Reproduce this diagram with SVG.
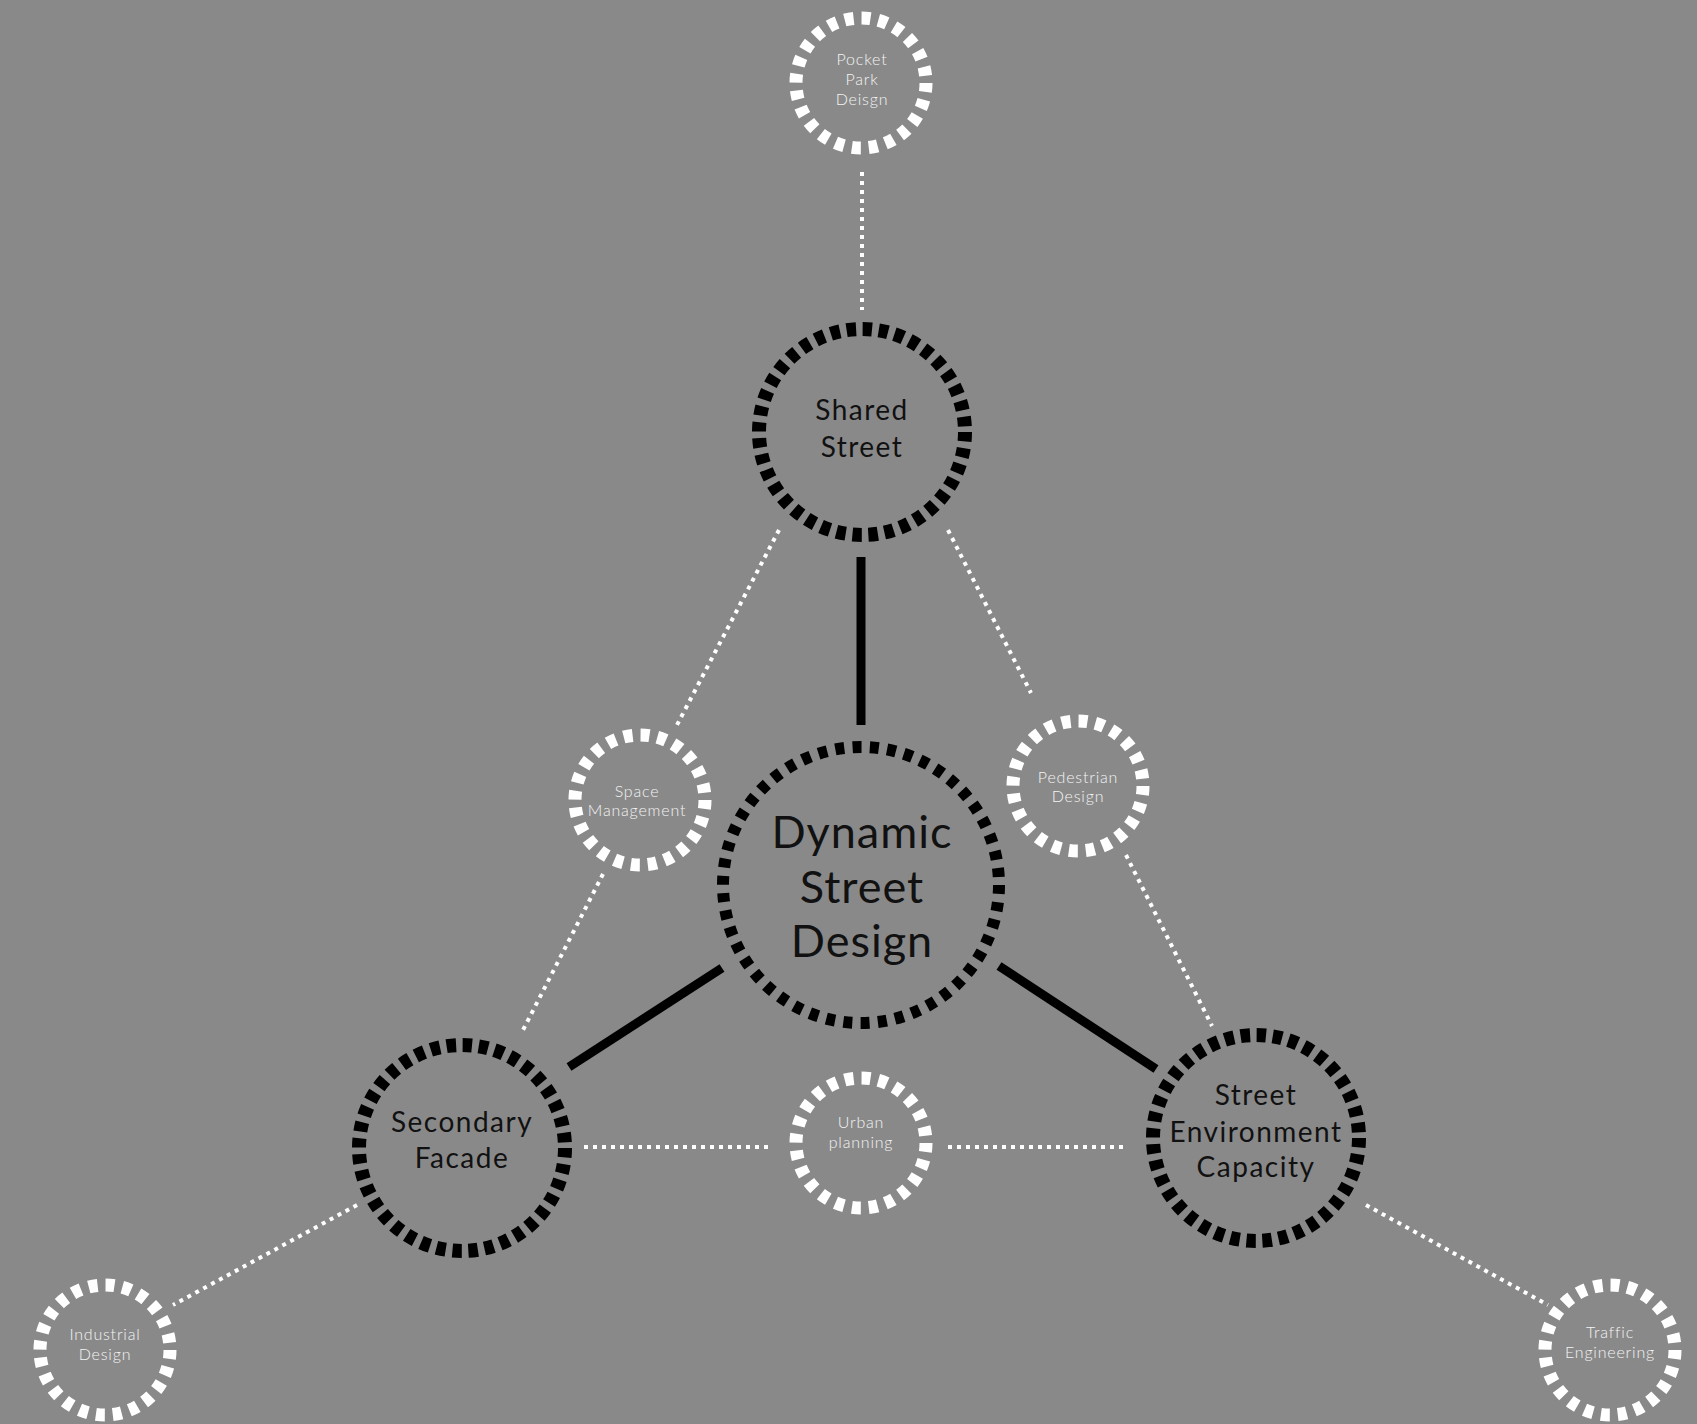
<svg xmlns="http://www.w3.org/2000/svg" width="1697" height="1424" viewBox="0 0 1697 1424">
<defs>
<style>
.bg{fill:#898989}
.wring{fill:none;stroke:#ffffff;stroke-width:13;stroke-dasharray:9 8.02}
.bring{fill:none;stroke:#000000;stroke-width:14;stroke-dasharray:9.5 6.68}
.cring{fill:none;stroke:#000000;stroke-width:12;stroke-dasharray:9 8.34}
.solid{stroke:#000000;stroke-width:9;stroke-linecap:butt;fill:none}
.dot{stroke:#ffffff;stroke-width:4;stroke-dasharray:4 5;fill:none}
.st{font-family:Lato,"Open Sans","Liberation Sans",sans-serif;font-weight:300;fill:#f4f4f4;font-size:16px;text-anchor:middle;letter-spacing:0.8px}
.mt{font-family:Lato,"Open Sans","Liberation Sans",sans-serif;font-weight:400;fill:#111111;font-size:28px;text-anchor:middle;letter-spacing:1.5px}
.lt{font-family:Lato,"Open Sans","Liberation Sans",sans-serif;font-weight:400;fill:#111111;font-size:45px;text-anchor:middle;letter-spacing:1px}
</style>
</defs>
<rect class="bg" x="0" y="0" width="1697" height="1424"/>
<g id="connectors">
<line class="dot" x1="862" y1="172" x2="862" y2="310"/>
<line class="solid" x1="861" y1="557" x2="861" y2="725"/>
<line class="solid" x1="722" y1="968" x2="569" y2="1067"/>
<line class="solid" x1="999" y1="966" x2="1156" y2="1069"/>
<line class="dot" x1="779" y1="530" x2="677" y2="725"/>
<line class="dot" x1="603" y1="874" x2="521" y2="1034"/>
<line class="dot" x1="948" y1="530" x2="1031" y2="693"/>
<line class="dot" x1="1126" y1="855" x2="1212" y2="1026"/>
<line class="dot" x1="584" y1="1147" x2="771" y2="1147"/>
<line class="dot" x1="948" y1="1147" x2="1126" y2="1147"/>
<line class="dot" x1="357" y1="1205" x2="173" y2="1305"/>
<line class="dot" x1="1366" y1="1205" x2="1548" y2="1305"/>
</g>
<g id="pocket-park">
<circle class="wring" cx="861" cy="83" r="65"/>
<text class="st" x="862" y="65">Pocket</text>
<text class="st" x="862" y="85">Park</text>
<text class="st" x="862" y="105">Deisgn</text>
</g>
<g id="shared-street">
<circle class="bring" cx="862" cy="432" r="103"/>
<text class="mt" x="862" y="420">Shared</text>
<text class="mt" x="862" y="457">Street</text>
</g>
<g id="dynamic-street-design">
<circle class="cring" cx="861" cy="885" r="138"/>
<text class="lt" x="862" y="848">Dynamic</text>
<text class="lt" x="862" y="903">Street</text>
<text class="lt" x="862" y="957">Design</text>
</g>
<g id="space-management">
<circle class="wring" cx="640" cy="800" r="65"/>
<text class="st" x="637" y="797">Space</text>
<text class="st" x="637" y="816">Management</text>
</g>
<g id="pedestrian-design">
<circle class="wring" cx="1078" cy="786" r="65"/>
<text class="st" x="1078" y="783">Pedestrian</text>
<text class="st" x="1078" y="802">Design</text>
</g>
<g id="secondary-facade">
<circle class="bring" cx="462" cy="1148" r="103"/>
<text class="mt" x="462" y="1132">Secondary</text>
<text class="mt" x="462" y="1168">Facade</text>
</g>
<g id="street-environment-capacity">
<circle class="bring" cx="1256" cy="1138" r="103"/>
<text class="mt" x="1256" y="1105">Street</text>
<text class="mt" x="1256" y="1142">Environment</text>
<text class="mt" x="1256" y="1177">Capacity</text>
</g>
<g id="urban-planning">
<circle class="wring" cx="861" cy="1143" r="65"/>
<text class="st" x="861" y="1128">Urban</text>
<text class="st" x="861" y="1148">planning</text>
</g>
<g id="industrial-design">
<circle class="wring" cx="105" cy="1350" r="65"/>
<text class="st" x="105" y="1340">Industrial</text>
<text class="st" x="105" y="1360">Design</text>
</g>
<g id="traffic-engineering">
<circle class="wring" cx="1610" cy="1350" r="65"/>
<text class="st" x="1610" y="1338">Traffic</text>
<text class="st" x="1610" y="1358">Engineering</text>
</g>
</svg>
